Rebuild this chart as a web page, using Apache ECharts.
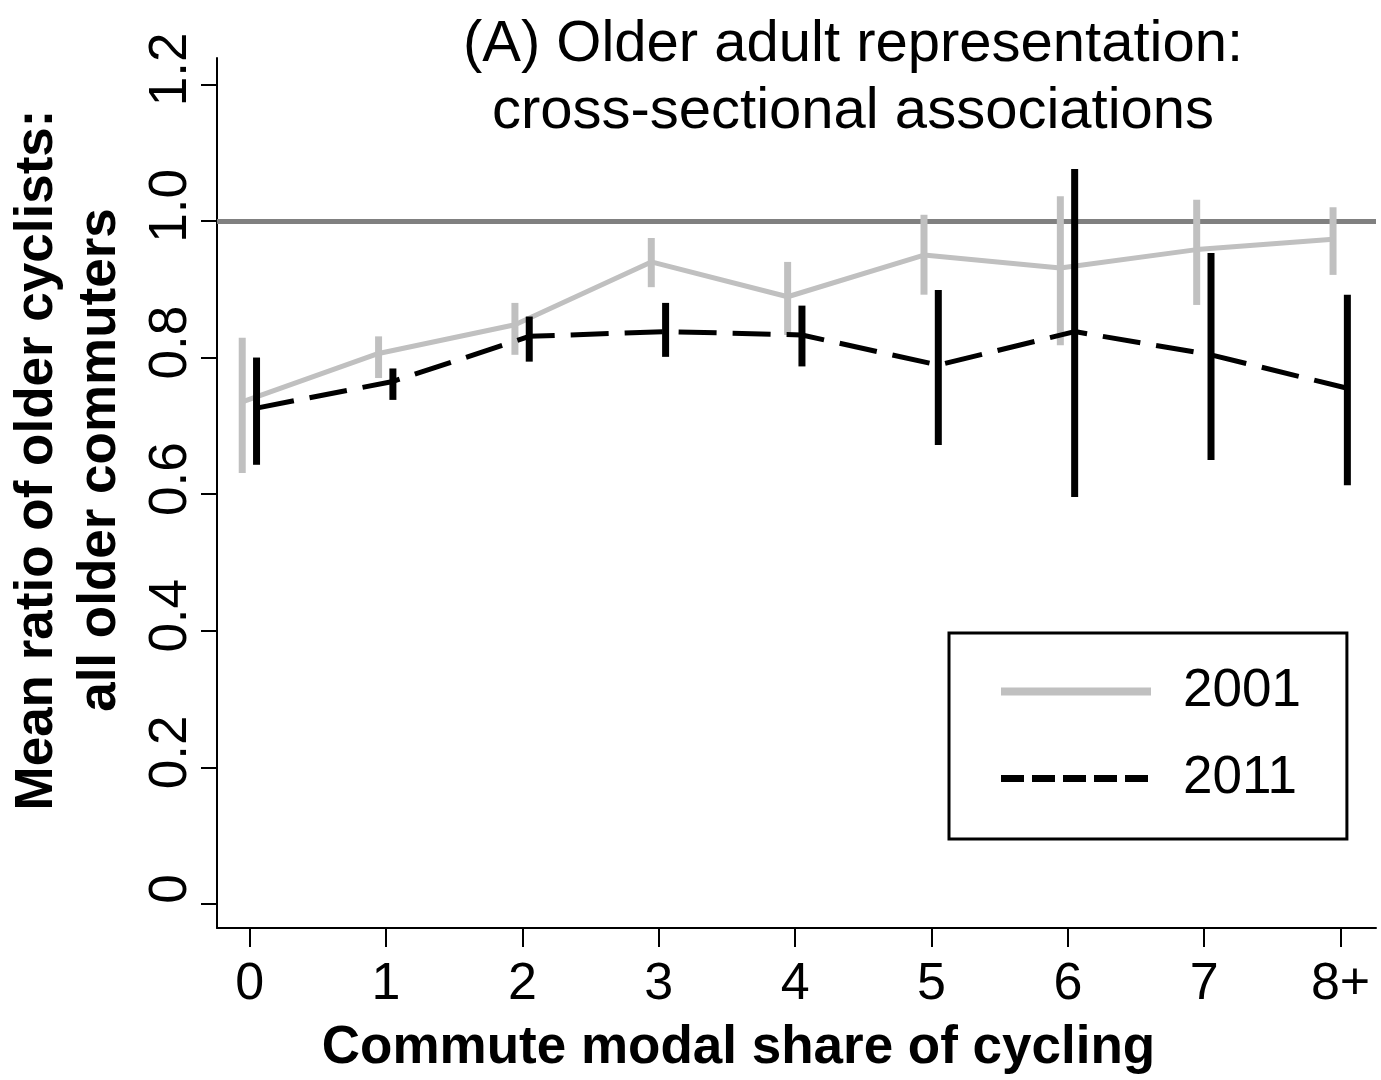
<!DOCTYPE html>
<html>
<head>
<meta charset="utf-8">
<script src="https://cdn.jsdelivr.net/npm/echarts@6/dist/echarts.min.js"></script>
<style>
html,body{margin:0;padding:0;background:#fff;}
#chart{width:1381px;height:1080px;}
</style>
</head>
<body>
<div id="chart"></div>
<script>
// ---- data ----
const categories = ['0', '1', '2', '3', '4', '5', '6', '7', '8+'];
const mean2001 = [0.735, 0.806, 0.848, 0.940, 0.889, 0.950, 0.931, 0.958, 0.973];
const low2001  = [0.631, 0.770, 0.804, 0.903, 0.833, 0.892, 0.818, 0.877, 0.921];
const high2001 = [0.829, 0.831, 0.880, 0.975, 0.940, 1.009, 1.036, 1.031, 1.020];
const mean2011 = [0.726, 0.765, 0.831, 0.838, 0.833, 0.789, 0.838, 0.804, 0.755];
const low2011  = [0.643, 0.738, 0.794, 0.801, 0.787, 0.672, 0.596, 0.650, 0.613];
const high2011 = [0.800, 0.784, 0.860, 0.880, 0.876, 0.899, 1.076, 0.953, 0.892];
const yTickValues = [0, 0.2, 0.4, 0.6, 0.8, 1.0, 1.2];
const yTickLabels = ['0', '0.2', '0.4', '0.6', '0.8', '1.0', '1.2'];
const referenceValue = 1.0;
const seriesNames = ['2001', '2011'];

const FONT = "'Liberation Sans', Arial, Helvetica, sans-serif";
const xTickValues = categories.map((c, i) => i);
const off2001 = -0.055;
const off2011 = 0.05;

function points(means, off) { return means.map((v, i) => [i + off, v]); }
function bars(lo, hi, off) { return lo.map((v, i) => [i + off, v, hi[i]]); }
function errorBarRenderer(color, width) {
  return function (params, api) {
    const x = api.value(0);
    const p1 = api.coord([x, api.value(1)]);
    const p2 = api.coord([x, api.value(2)]);
    return {
      type: 'line',
      shape: { x1: p1[0], y1: p1[1], x2: p2[0], y2: p2[1] },
      style: { stroke: color, lineWidth: width, lineCap: 'butt' }
    };
  };
}

const GRAY = '#c0c0c0';
const HIDDEN = { color: 'rgba(0,0,0,0)', borderColor: 'rgba(0,0,0,0)', borderWidth: 0, opacity: 0 };
const chart = echarts.init(document.getElementById('chart'), null, { renderer: 'canvas' });
const option = {
  animation: false,
  backgroundColor: '#ffffff',
  title: {
    text: '(A) Older adult representation:\ncross-sectional associations',
    left: 853, top: 11, padding: 0, textAlign: 'center',
    textStyle: { fontFamily: FONT, fontSize: 58, fontWeight: 'normal', color: '#000', lineHeight: 67 }
  },
  legend: {
    orient: 'vertical', left: 949, top: 633,
    padding: [32, 46, 34, 48], itemGap: 34, itemWidth: 150, itemHeight: 30,
    borderColor: '#000', borderWidth: 3, backgroundColor: '#fff',
    textStyle: { fontFamily: FONT, fontSize: 53, color: '#000', padding: [0, 0, 0, 27] },
    data: [
      { name: seriesNames[0], lineStyle: { width: 8, color: GRAY }, itemStyle: HIDDEN },
      { name: seriesNames[1], lineStyle: { width: 7, color: '#000', type: [23, 8] }, itemStyle: HIDDEN }
    ]
  },
  grid: { left: 217, right: 5, top: 58, bottom: 152, outerBoundsMode: 'none' },
  xAxis: {
    type: 'value', min: -0.24, max: 8.26,
    name: 'Commute modal share of cycling', nameLocation: 'middle', nameGap: 94,
    nameTextStyle: { fontFamily: FONT, fontSize: 53, fontWeight: 'bold', color: '#000', padding: [0, 116, 0, 0] },
    axisLine: { show: true, onZero: false, lineStyle: { color: '#000', width: 2 } },
    axisTick: { show: true, length: 19, customValues: xTickValues, lineStyle: { color: '#000', width: 2 } },
    axisLabel: {
      customValues: xTickValues, margin: 31,
      formatter: v => categories[Math.round(v)],
      fontFamily: FONT, fontSize: 52, color: '#000'
    },
    splitLine: { show: false }
  },
  yAxis: {
    type: 'value', min: -0.0351, max: 1.2385,
    name: 'Mean ratio of older cyclists:\nall older commuters', nameLocation: 'middle', nameRotate: 90, nameGap: 85,
    nameTextStyle: { fontFamily: FONT, fontSize: 53, fontWeight: 'bold', color: '#000', lineHeight: 63, padding: [0, 0, 0, 66] },
    axisLine: { show: true, onZero: false, lineStyle: { color: '#000', width: 2 } },
    axisTick: { show: true, length: 16, customValues: yTickValues, lineStyle: { color: '#000', width: 2 } },
    axisLabel: {
      customValues: yTickValues, rotate: 90, margin: 19,
      formatter: v => yTickLabels[yTickValues.findIndex(t => Math.abs(t - v) < 1e-6)],
      fontFamily: FONT, fontSize: 53, color: '#000', padding: [0, 0, 0, 30]
    },
    splitLine: { show: false }
  },
  series: [
    {
      name: seriesNames[0], type: 'line', z: 2, symbol: 'none',
      data: points(mean2001, off2001),
      lineStyle: { color: GRAY, width: 5 }, itemStyle: { color: GRAY },
      markLine: {
        silent: true, z: 1, symbol: ['none', 'none'], label: { show: false },
        lineStyle: { color: '#808080', width: 5, type: 'solid' },
        data: [{ yAxis: referenceValue }]
      }
    },
    {
      name: seriesNames[0] + ' CI', type: 'custom', z: 3,
      data: bars(low2001, high2001, off2001),
      encode: { x: 0, y: [1, 2] },
      renderItem: errorBarRenderer(GRAY, 7)
    },
    {
      name: seriesNames[1], type: 'line', z: 4, symbol: 'none',
      data: points(mean2011, off2011),
      lineStyle: { color: '#000', width: 5, type: [38, 16] }, itemStyle: { color: '#000' }
    },
    {
      name: seriesNames[1] + ' CI', type: 'custom', z: 5,
      data: bars(low2011, high2011, off2011),
      encode: { x: 0, y: [1, 2] },
      renderItem: errorBarRenderer('#000', 7)
    }
  ]
};
chart.setOption(option);
</script>
</body>
</html>
